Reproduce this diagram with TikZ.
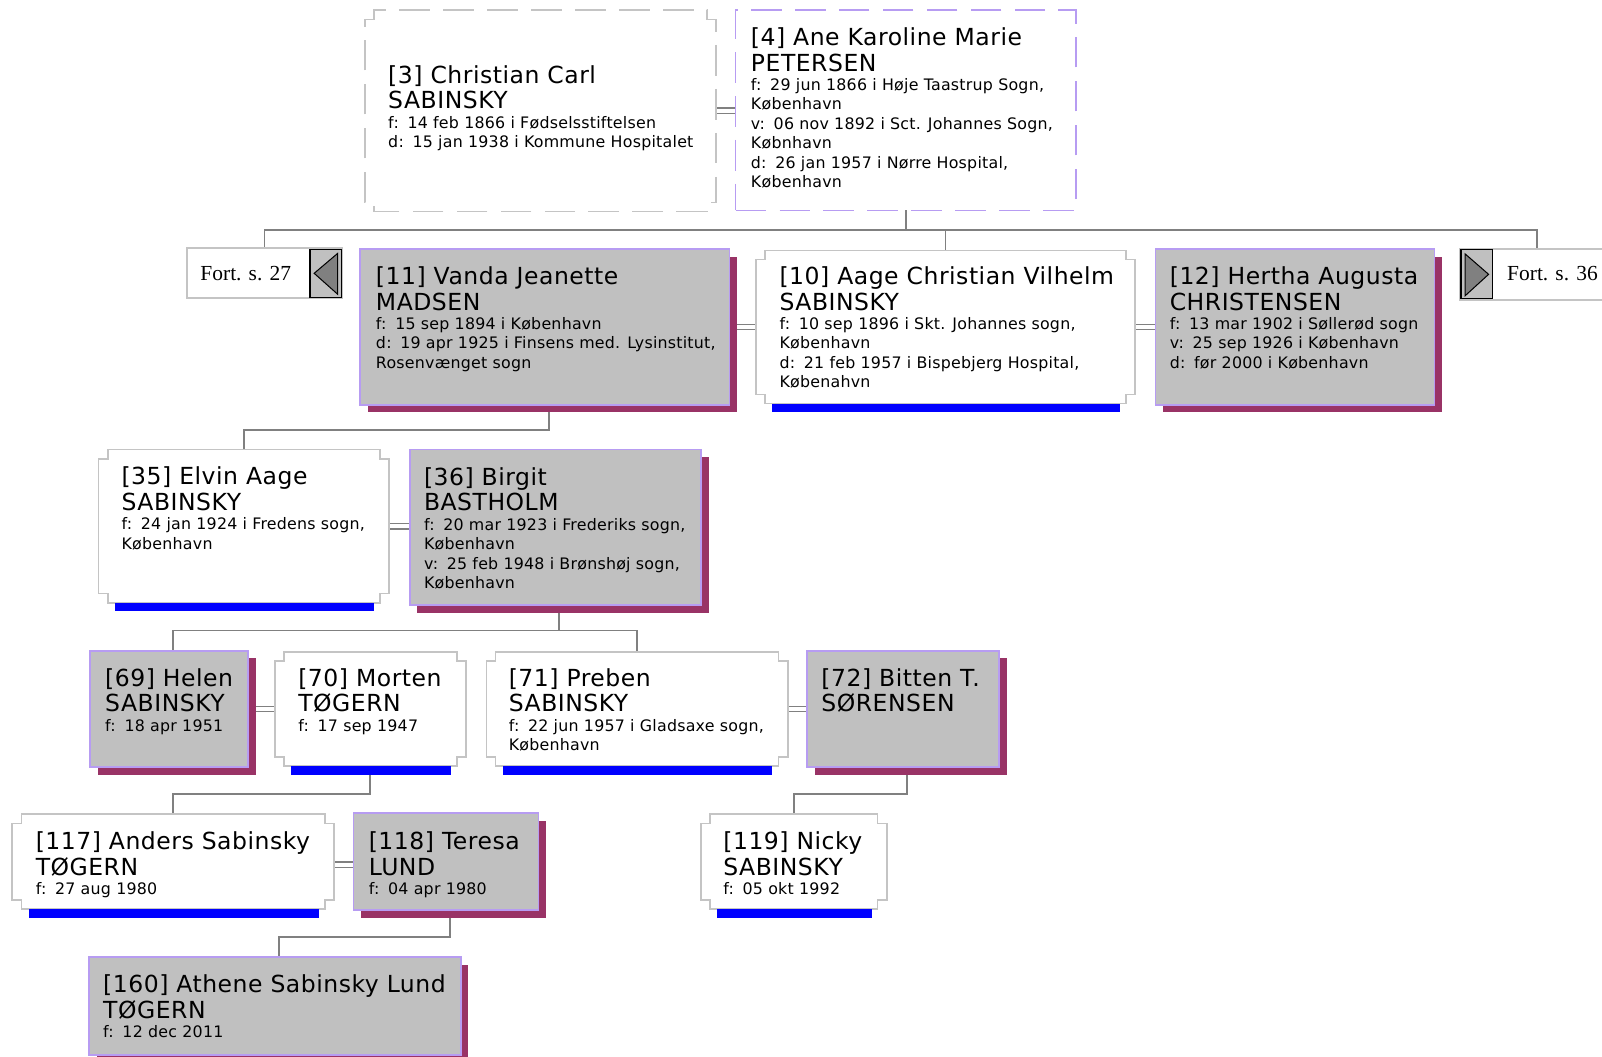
\documentclass[tikz,border=0pt]{standalone}
\usepackage{fontspec}
\setmainfont{DejaVu Sans}
\newfontfamily\fortfont{Liberation Serif}
\newfontfamily\nmfam[LetterSpace=2.2]{DejaVu Sans}
\newfontfamily\smfam[LetterSpace=1.5]{DejaVu Sans}
\usetikzlibrary{shadows,backgrounds}
\definecolor{boxgray}{HTML}{C0C0C0}
\definecolor{lav}{HTML}{B79CF2}
\definecolor{shad}{HTML}{993366}
\definecolor{conng}{HTML}{808080}
\definecolor{edgegray}{HTML}{C4C4C4}
\newcommand\nmf{\nmfam\fontsize{23}{25}\selectfont}
\newcommand\smf{\smfam\fontsize{15.5}{19}\selectfont}
\newcommand\pc{:\hspace{0.55em}}
\newcommand\notchframe[2]{%
  \draw[#1] ([yshift=-9pt]#2.north west) -- ++(9,0) -- ([xshift=9pt]#2.north west)
    -- ([xshift=-9pt]#2.north east) -- ++(0,9) -- ([yshift=-9pt]#2.north east)
    -- ([yshift=9pt]#2.south east) -- ++(-9,0) -- ([xshift=-9pt]#2.south east)
    -- ([xshift=9pt]#2.south west) -- ++(0,-9) -- ([yshift=9pt]#2.south west) -- cycle;}
\newcommand\bluebar[1]{\fill[blue] ([xshift=16pt]#1.south west) rectangle ([xshift=-15pt,yshift=-8.5pt]#1.south east);}
\newcommand\ptxt[3]{\node[txt] (#1) at (#2) {\parbox[t]{560pt}{\raggedright #3}};}
\newcommand\marr[3][0pt]{%
  \draw[dbl] ([yshift=2.6pt+#1]#2.east) -- ([yshift=2.6pt+#1]#2.east -| #3.west);
  \draw[dbl] ([yshift=-2.6pt+#1]#2.east) -- ([yshift=-2.6pt+#1]#2.east -| #3.west);}
\begin{document}
\begin{tikzpicture}[x=1pt,y=-1pt,
  conn/.style={draw=conng, line width=1.7pt},
  dbl/.style={draw=conng, line width=1.4pt},
  gbox/.style={rectangle, anchor=north west, inner sep=0pt, outer sep=0pt, fill=boxgray, draw=lav, line width=1.8pt,
    drop shadow={shadow xshift=7.5pt, shadow yshift=-7.5pt, fill=shad, opacity=1}},
  wbox/.style={rectangle, anchor=north west, inner sep=0pt, outer sep=0pt},
  wframe/.style={fill=white, draw=edgegray, line width=1.6pt},
  arrowbox/.style={wbox, fill=boxgray, draw=black, line width=1.2pt},
  tri/.style={fill=conng, draw=black, line width=1pt, line join=miter},
  txt/.style={anchor=base west, inner sep=0pt, outer sep=0pt},
  forttxt/.style={anchor=base west, inner sep=0pt, font=\fortfont\fontsize{21}{24}\selectfont}]
\clip (0,0) rectangle (1568,1033.6);

% ---------- boxes ----------
\node[wbox, minimum width=344pt, minimum height=197pt] (p3) at (357,10) {};
\notchframe{draw=edgegray, line width=1.5pt, dash pattern=on 30pt off 13pt}{p3}
\node[wbox, draw=lav, line width=1.5pt, dash pattern=on 30pt off 13pt, minimum width=333pt, minimum height=196pt] (p4) at (720,10) {};

\node[wbox, fill=white, draw=edgegray, line width=1.8pt, minimum width=152pt, minimum height=49pt] (f27) at (183,243) {};
\node[arrowbox, minimum width=31pt, minimum height=47pt] (a27) at (303.5,244) {};
\draw[tri] ([xshift=4pt]a27.west) -- ([xshift=-4pt,yshift=-4pt]a27.north east) -- ([xshift=-4pt,yshift=3pt]a27.south east) -- cycle;
\node[forttxt] (f27t) at (196,275) {Fort. s. 27};

\node[wbox, fill=white, draw=edgegray, line width=1.8pt, minimum width=150pt, minimum height=50pt] (f36) at (1429,243.5) {};
\node[arrowbox, minimum width=31pt, minimum height=48pt] (a36) at (1430,244.5) {};
\draw[tri] ([xshift=-4pt]a36.east) -- ([xshift=4pt,yshift=-4pt]a36.north west) -- ([xshift=4pt,yshift=3pt]a36.south west) -- cycle;
\node[forttxt] (f36t) at (1475,275) {Fort. s. 36};

\node[gbox, minimum width=361.5pt, minimum height=152pt] (p11) at (352.5,244) {};
\node[wbox, minimum width=371pt, minimum height=150pt] (p10) at (740,245) {};
\notchframe{wframe}{p10}
\bluebar{p10}
\node[gbox, minimum width=273pt, minimum height=152pt] (p12) at (1131,244) {};

\node[wbox, minimum width=284.5pt, minimum height=150pt] (p35) at (96.5,440) {};
\notchframe{wframe}{p35}
\bluebar{p35}
\node[gbox, minimum width=285pt, minimum height=152pt] (p36) at (401,440) {};

\node[gbox, minimum width=155pt, minimum height=114pt] (p69) at (88,637) {};
\node[wbox, minimum width=187pt, minimum height=112pt] (p70) at (269,638) {};
\notchframe{wframe}{p70}
\bluebar{p70}
\node[wbox, minimum width=295pt, minimum height=112pt] (p71) at (476,638) {};
\notchframe{wframe}{p71}
\bluebar{p71}
\node[gbox, minimum width=188pt, minimum height=114pt] (p72) at (790,637) {};

\node[wbox, minimum width=315pt, minimum height=93pt] (p117) at (12,797) {};
\notchframe{wframe}{p117}
\bluebar{p117}
\node[gbox, minimum width=181pt, minimum height=95pt] (p118) at (346,796) {};
\node[wbox, minimum width=182pt, minimum height=93pt] (p119) at (686,797) {};
\notchframe{wframe}{p119}
\bluebar{p119}

\node[gbox, minimum width=364pt, minimum height=96pt] (p160) at (87,937) {};

% ---------- texts ----------
\ptxt{t3}{380,81.5}{\nmf [3] Christian Carl\\SABINSKY\par\smf f\pc 14 feb 1866 i Fødselsstiftelsen\\d\pc 15 jan 1938 i Kommune Hospitalet}
\ptxt{t4}{735,44.5}{\nmf [4] Ane Karoline Marie\\PETERSEN\par\smf f\pc 29 jun 1866 i Høje Taastrup Sogn,\\København\\v\pc 06 nov 1892 i Sct. Johannes Sogn,\\Købnhavn\\d\pc 26 jan 1957 i Nørre Hospital,\\København}
\ptxt{t11}{368,278.5}{\nmf [11] Vanda Jeanette\\MADSEN\par\smf f\pc 15 sep 1894 i København\\d\pc 19 apr 1925 i Finsens med. Lysinstitut,\\Rosenvænget sogn}
\ptxt{t10}{763,278.5}{\nmf [10] Aage Christian Vilhelm\\SABINSKY\par\smf f\pc 10 sep 1896 i Skt. Johannes sogn,\\København\\d\pc 21 feb 1957 i Bispebjerg Hospital,\\Købenahvn}
\ptxt{t12}{1145,278.5}{\nmf [12] Hertha Augusta\\CHRISTENSEN\par\smf f\pc 13 mar 1902 i Søllerød sogn\\v\pc 25 sep 1926 i København\\d\pc før 2000 i København}
\ptxt{t35}{119,474.5}{\nmf [35] Elvin Aage\\SABINSKY\par\smf f\pc 24 jan 1924 i Fredens sogn,\\København}
\ptxt{t36}{415,475}{\nmf [36] Birgit\\BASTHOLM\par\smf f\pc 20 mar 1923 i Frederiks sogn,\\København\\v\pc 25 feb 1948 i Brønshøj sogn,\\København}
\ptxt{t69}{103,671.5}{\nmf [69] Helen\\SABINSKY\par\smf f\pc 18 apr 1951}
\ptxt{t70}{292,671.5}{\nmf [70] Morten\\TØGERN\par\smf f\pc 17 sep 1947}
\ptxt{t71}{498,671.5}{\nmf [71] Preben\\SABINSKY\par\smf f\pc 22 jun 1957 i Gladsaxe sogn,\\København}
\ptxt{t72}{804,671.5}{\nmf [72] Bitten T.\\SØRENSEN}
\ptxt{t117}{35,831.5}{\nmf [117] Anders Sabinsky\\TØGERN\par\smf f\pc 27 aug 1980}
\ptxt{t118}{361,831.5}{\nmf [118] Teresa\\LUND\par\smf f\pc 04 apr 1980}
\ptxt{t119}{708,831.5}{\nmf [119] Nicky\\SABINSKY\par\smf f\pc 05 okt 1992}
\ptxt{t160}{101,971.5}{\nmf [160] Athene Sabinsky Lund\\TØGERN\par\smf f\pc 12 dec 2011}

% ---------- connectors ----------
\begin{scope}[on background layer]
\fill[white] (0,0) rectangle (1568,1033.6);
\coordinate (b4) at ([yshift=-19pt]p4.south);
\draw[conn] (p4.south) -- (b4);
\draw[conn] (f27.north) |- (b4) -| (f36.north);
\draw[conn] (p10.north) -- (p10.north |- b4);
\marr{p3}{p4}
\marr{p11}{p10}
\marr{p10}{p12}
\draw[conn] ([xshift=3.75pt]p11.south) -- ++(0,25) -| (p35.north);
\marr{p35}{p36}
\coordinate (b36) at ([xshift=3.75pt,yshift=-25pt]p36.south);
\draw[conn] ([xshift=3.75pt]p36.south) -- (b36);
\draw[conn] ([xshift=3.75pt]p69.north) |- (b36) -| (p71.north);
\marr{p69}{p70}
\marr{p71}{p72}
\draw[conn] (p70.south) -- ++(0,27) -| (p117.north);
\draw[conn] ([xshift=3.75pt]p72.south) -- ++(0,26) -| (p119.north);
\marr[-3pt]{p117}{p118}
\draw[conn] ([xshift=3.75pt]p118.south) -- ++(0,26) -| ([xshift=3.75pt]p160.north);
\end{scope}
\end{tikzpicture}
\end{document}
